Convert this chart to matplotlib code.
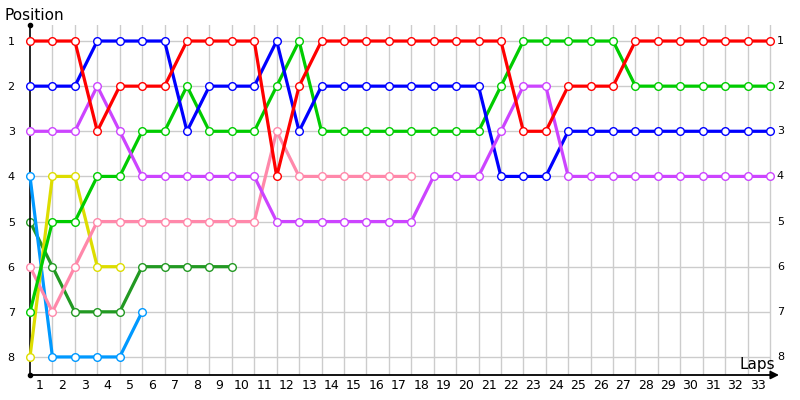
import numpy as np
import matplotlib
matplotlib.use('Agg')
import matplotlib.pyplot as plt

#%% data: position per lap (lap 0 = start)
red        = [1, 1, 1, 3, 2, 2, 2, 1, 1, 1, 1, 4, 2, 1, 1, 1, 1, 1, 1, 1, 1, 1,
              3, 3, 2, 2, 2, 1, 1, 1, 1, 1, 1, 1]
blue       = [2, 2, 2, 1, 1, 1, 1, 3, 2, 2, 2, 1, 3, 2, 2, 2, 2, 2, 2, 2, 2, 4,
              4, 4, 3, 3, 3, 3, 3, 3, 3, 3, 3, 3]
green      = [7, 5, 5, 4, 4, 3, 3, 2, 3, 3, 3, 2, 1, 3, 3, 3, 3, 3, 3, 3, 3, 2,
              1, 1, 1, 1, 1, 2, 2, 2, 2, 2, 2, 2]
purple     = [3, 3, 3, 2, 3, 4, 4, 4, 4, 4, 4, 5, 5, 5, 5, 5, 5, 5, 4, 4, 4, 3,
              2, 2, 4, 4, 4, 4, 4, 4, 4, 4, 4, 4]
pink       = [6, 7, 6, 5, 5, 5, 5, 5, 5, 5, 5, 3, 4, 4, 4, 4, 4, 4]
yellow     = [8, 4, 4, 6, 6]
dark_green = [5, 6, 7, 7, 7, 6, 6, 6, 6, 6]
light_blue = [4, 8, 8, 8, 8, 7]

series = [
    (dark_green, '#229922'),
    (light_blue, '#0099ff'),
    (yellow, '#dddd00'),
    (pink, '#ff88aa'),
    (green, '#00cc00'),
    (blue, '#0000ff'),
    (purple, '#cc44ff'),
    (red, '#ff0000'),
]

n_laps = 33
positions = list(range(1, 9))
lap_labels = [str(i) for i in range(1, n_laps + 1)]

#%% figure
fig = plt.figure(figsize=(8, 4), dpi=100)
ax = fig.add_axes([30 / 800, 25 / 400, 749 / 800, 350 / 400])
ax.set_xlim(0, 33.4)
ax.set_ylim(8.4, 0.645)

# grid
for lap in range(1, n_laps + 1):
    ax.axvline(lap, color='#cccccc', lw=1, zorder=0)
ax.hlines(positions, 0, n_laps, color='#cccccc', lw=1, zorder=0)

# lines
for k, (vals, col) in enumerate(series):
    laps = np.arange(len(vals))
    ax.plot(laps, vals, color=col, lw=2.3, marker='o', ms=5.5,
            mfc='white', mec=col, mew=1.0, zorder=2 + k, clip_on=False)

# axes look
for s in ['top', 'right', 'bottom']:
    ax.spines[s].set_visible(False)
ax.spines['left'].set_color('black')
ax.spines['left'].set_linewidth(1.2)
ax.annotate('', xy=(1.0, 0), xytext=(0, 0), xycoords='axes fraction',
            arrowprops=dict(arrowstyle='-|>', color='black', lw=1.3,
                            mutation_scale=12, shrinkA=0, shrinkB=0))
ax.plot([0], [0.645], 'ko', ms=3, clip_on=False, zorder=10)
ax.plot([0], [8.4], 'ko', ms=3, clip_on=False, zorder=10)

ax.set_yticks(positions)
ax.set_yticklabels([str(p) for p in positions], fontsize=8)
ax.tick_params(axis='y', length=0, pad=11)
ax.set_xticks(np.arange(1, n_laps + 1) - 0.55)
ax.set_xticklabels(lap_labels, fontsize=9)
ax.tick_params(axis='x', length=0, pad=3)

for p in positions:
    ax.text(n_laps + 0.3, p, str(p), fontsize=8, va='center', ha='left')

fig.text(5 / 800, 1 - 15 / 400, 'Position', fontsize=11, va='center', ha='left')
fig.text(775 / 800, 1 - 365 / 400, 'Laps', fontsize=11, va='center', ha='right')

fig.savefig('out.png', dpi=100)
